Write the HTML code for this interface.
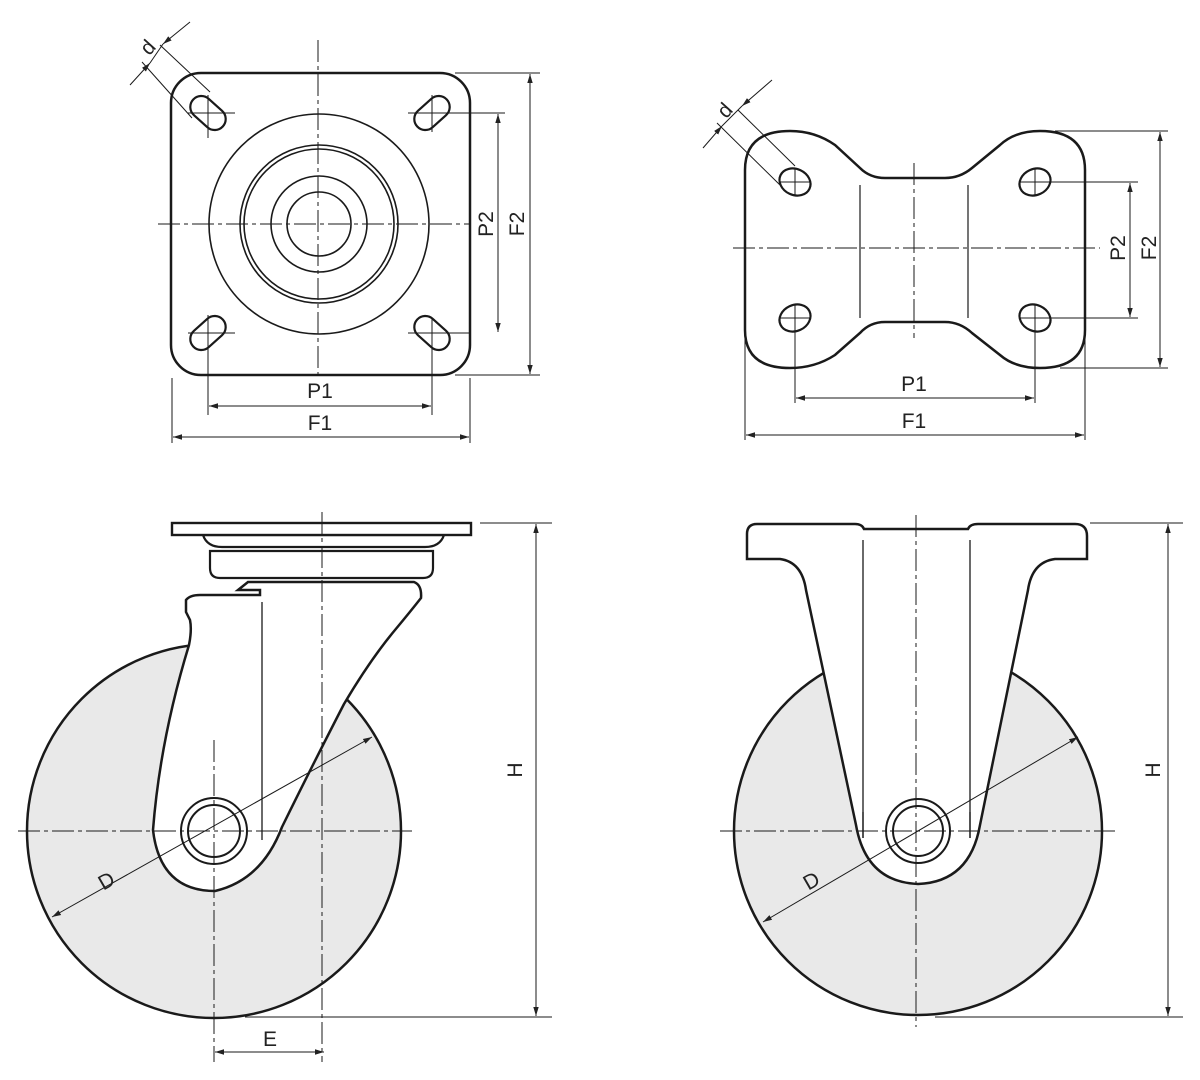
<!DOCTYPE html>
<html><head><meta charset="utf-8"><style>
html,body{margin:0;padding:0;background:#fff;}
svg{display:block;}
text{font-family:"Liberation Sans",sans-serif;font-size:21px;fill:#222;}
</style></head><body>
<svg width="1200" height="1080" viewBox="0 0 1200 1080" xmlns="http://www.w3.org/2000/svg">
<defs>
<marker id="a" viewBox="0 0 10 10" refX="10" refY="5" markerWidth="9" markerHeight="9" orient="auto-start-reverse" markerUnits="userSpaceOnUse"><path d="M0,2 L10,5 L0,8 z" fill="#222"/></marker>
</defs>
<g fill="none" stroke="#1a1a1a">
<!-- ============ TOP LEFT: square plate ============ -->
<rect x="171" y="73" width="299" height="302" rx="30" stroke-width="2.5"/>
<g stroke-width="2.2">
<rect x="-20" y="-11" width="40" height="22" rx="11" transform="translate(208,113) rotate(42)"/>
<rect x="-20" y="-11" width="40" height="22" rx="11" transform="translate(432,113) rotate(-42)"/>
<rect x="-20" y="-11" width="40" height="22" rx="11" transform="translate(208,333) rotate(-42)"/>
<rect x="-20" y="-11" width="40" height="22" rx="11" transform="translate(432,333) rotate(42)"/>
</g>
<g stroke-width="1.6">
<circle cx="319" cy="224" r="110"/>
<circle cx="319" cy="224" r="79"/>
<circle cx="319" cy="224" r="75"/>
<circle cx="319" cy="224" r="48"/>
<circle cx="319" cy="224" r="32"/>
</g>
<g stroke-width="1" stroke-dasharray="22,4,4,4">
<line x1="318" y1="40" x2="318" y2="378"/>
<line x1="158" y1="224" x2="470" y2="224"/>
</g>
<g stroke-width="1">
<line x1="188" y1="113" x2="235" y2="113"/><line x1="208" y1="95" x2="208" y2="138"/>
<line x1="408" y1="113" x2="455" y2="113"/><line x1="432" y1="95" x2="432" y2="132"/>
<line x1="188" y1="333" x2="235" y2="333"/><line x1="208" y1="315" x2="208" y2="415"/>
<line x1="408" y1="333" x2="470" y2="333"/><line x1="432" y1="318" x2="432" y2="415"/>
<line x1="440" y1="113" x2="505" y2="113"/>
<line x1="455" y1="73" x2="540" y2="73"/><line x1="455" y1="375" x2="540" y2="375"/>
<line x1="172" y1="378" x2="172" y2="443"/><line x1="470" y1="378" x2="470" y2="443"/>
<line x1="498" y1="114" x2="498" y2="332" marker-start="url(#a)" marker-end="url(#a)"/>
<line x1="530" y1="74" x2="530" y2="374" marker-start="url(#a)" marker-end="url(#a)"/>
<line x1="209" y1="406" x2="431" y2="406" marker-start="url(#a)" marker-end="url(#a)"/>
<line x1="173" y1="437" x2="469" y2="437" marker-start="url(#a)" marker-end="url(#a)"/>
<line x1="142" y1="62" x2="192" y2="118"/>
<line x1="160" y1="45" x2="210" y2="92"/>
<line x1="130" y1="85" x2="150" y2="63" marker-end="url(#a)"/>
<line x1="190" y1="22" x2="163" y2="44" marker-end="url(#a)"/>
<line x1="150" y1="63" x2="163" y2="44"/>
</g>
<!-- ============ TOP RIGHT: bowtie plate ============ -->
<path stroke-width="2.5" d="M745,170 Q745,131 790,131 Q815,131 835,145 L860,168 Q870,178 885,178 L945,178 Q960,178 972,168 L1000,145 Q1015,131 1040,131 Q1085,131 1085,170 L1085,330 Q1085,368 1040,368 Q1015,368 1000,355 L972,333 Q960,322 945,322 L885,322 Q870,322 860,333 L835,355 Q815,368 790,368 Q745,368 745,330 Z"/>
<g stroke-width="2.2">
<ellipse cx="795" cy="182" rx="16" ry="13" transform="rotate(25 795 182)"/>
<ellipse cx="1035" cy="182" rx="16" ry="13" transform="rotate(-25 1035 182)"/>
<ellipse cx="795" cy="318" rx="16" ry="13" transform="rotate(-25 795 318)"/>
<ellipse cx="1035" cy="318" rx="16" ry="13" transform="rotate(25 1035 318)"/>
</g>
<g stroke-width="1.2">
<line x1="860" y1="185" x2="860" y2="318"/>
<line x1="968" y1="185" x2="968" y2="318"/>
</g>
<g stroke-width="1" stroke-dasharray="22,4,4,4">
<line x1="914" y1="163" x2="914" y2="338"/>
<line x1="733" y1="248" x2="1100" y2="248"/>
</g>
<g stroke-width="1">
<line x1="780" y1="182" x2="810" y2="182"/><line x1="795" y1="168" x2="795" y2="196"/>
<line x1="1020" y1="182" x2="1138" y2="182"/><line x1="1035" y1="168" x2="1035" y2="196"/>
<line x1="780" y1="318" x2="810" y2="318"/><line x1="795" y1="304" x2="795" y2="403"/>
<line x1="1020" y1="318" x2="1138" y2="318"/><line x1="1035" y1="304" x2="1035" y2="403"/>
<line x1="1055" y1="131" x2="1168" y2="131"/><line x1="1060" y1="368" x2="1168" y2="368"/>
<line x1="745" y1="338" x2="745" y2="440"/><line x1="1085" y1="338" x2="1085" y2="440"/>
<line x1="1130" y1="183" x2="1130" y2="317" marker-start="url(#a)" marker-end="url(#a)"/>
<line x1="1160" y1="132" x2="1160" y2="367" marker-start="url(#a)" marker-end="url(#a)"/>
<line x1="796" y1="398" x2="1034" y2="398" marker-start="url(#a)" marker-end="url(#a)"/>
<line x1="746" y1="435" x2="1084" y2="435" marker-start="url(#a)" marker-end="url(#a)"/>
<line x1="717" y1="123" x2="780" y2="185"/>
<line x1="738" y1="110" x2="795" y2="166"/>
<line x1="703" y1="148" x2="722" y2="126" marker-end="url(#a)"/>
<line x1="772" y1="80" x2="742" y2="106" marker-end="url(#a)"/>
<line x1="722" y1="126" x2="742" y2="106"/>
</g>
<!-- ============ BOTTOM LEFT: swivel ============ -->
<circle cx="214" cy="831" r="187" fill="#e9e9e9" stroke-width="2.5"/>
<path stroke-width="2.5" fill="#fff" d="M200,595 L260,595 L260,590 L238,590 L248,582 L414,582 Q422,585 421,598 Q410,612 395,630 Q370,660 344,704 Q310,770 282,827 Q262,880 215,891 Q160,891 153,830 Q160,740 189,645 Q192,630 190,620 L186,612 L186,600 Q190,595 200,595 Z"/>
<path stroke-width="2.2" fill="#fff" d="M210,551 L433,551 L433,568 Q433,578 423,578 L220,578 Q210,578 210,568 Z"/>
<path stroke-width="2.2" fill="#fff" d="M203,535 L444,535 Q440,547 425,547 L222,547 Q207,547 203,535 Z"/>
<rect x="172" y="523" width="299" height="12" stroke-width="2.4" fill="#fff"/>
<circle cx="214" cy="831" r="33" stroke-width="2" fill="#fff"/>
<circle cx="214" cy="831" r="26" stroke-width="2"/>
<line x1="262" y1="602" x2="262" y2="840" stroke-width="1.3"/>
<g stroke-width="1" stroke-dasharray="22,4,4,4">
<line x1="322" y1="512" x2="322" y2="1062"/>
<line x1="214" y1="740" x2="214" y2="1062"/>
<line x1="18" y1="831" x2="412" y2="831"/>
</g>
<g stroke-width="1">
<line x1="52" y1="917" x2="372" y2="737" marker-start="url(#a)" marker-end="url(#a)"/>
<line x1="480" y1="523" x2="552" y2="523"/>
<line x1="245" y1="1017" x2="552" y2="1017"/>
<line x1="536" y1="524" x2="536" y2="1016" marker-start="url(#a)" marker-end="url(#a)"/>
<line x1="215" y1="1052" x2="324" y2="1052" marker-start="url(#a)" marker-end="url(#a)"/>
</g>
<!-- ============ BOTTOM RIGHT: rigid ============ -->
<circle cx="918" cy="831" r="184" fill="#e9e9e9" stroke-width="2.5"/>
<path stroke-width="2.5" fill="#fff" d="M757,524 L855,524 Q862,524 864,529 L968,529 Q970,524 978,524 L1075,524 Q1087,524 1087,536 L1087,559 L1055,559 Q1032,562 1028,590 L980,825 Q970,882 918,884 Q866,882 856,825 L806,590 Q802,562 780,559 L747,559 L747,534 Q747,524 757,524 Z"/>
<g stroke-width="1.3">
<line x1="863" y1="540" x2="863" y2="838"/>
<line x1="970" y1="540" x2="970" y2="838"/>
</g>
<circle cx="918" cy="831" r="32" stroke-width="2" fill="#fff"/>
<circle cx="918" cy="831" r="25" stroke-width="2"/>
<line x1="863" y1="812" x2="863" y2="838" stroke-width="1.3"/>
<line x1="970" y1="812" x2="970" y2="838" stroke-width="1.3"/>
<g stroke-width="1" stroke-dasharray="22,4,4,4">
<line x1="916" y1="515" x2="916" y2="1027"/>
<line x1="720" y1="831" x2="1115" y2="831"/>
</g>
<g stroke-width="1">
<line x1="763" y1="922" x2="1078" y2="737" marker-start="url(#a)" marker-end="url(#a)"/>
<line x1="1090" y1="523" x2="1183" y2="523"/>
<line x1="935" y1="1017" x2="1183" y2="1017"/>
<line x1="1168" y1="524" x2="1168" y2="1016" marker-start="url(#a)" marker-end="url(#a)"/>
</g>
</g>
<!-- labels -->
<text x="320" y="398" text-anchor="middle">P1</text>
<text x="320" y="430" text-anchor="middle">F1</text>
<text transform="translate(493,224) rotate(-90)" text-anchor="middle">P2</text>
<text transform="translate(524,224) rotate(-90)" text-anchor="middle">F2</text>
<text transform="translate(153,52) rotate(-48)" text-anchor="middle">d</text>
<text x="914" y="391" text-anchor="middle">P1</text>
<text x="914" y="428" text-anchor="middle">F1</text>
<text transform="translate(1125,248) rotate(-90)" text-anchor="middle">P2</text>
<text transform="translate(1156,248) rotate(-90)" text-anchor="middle">F2</text>
<text transform="translate(730,115) rotate(-48)" text-anchor="middle">d</text>
<text transform="translate(110,887) rotate(-30)" text-anchor="middle">D</text>
<text transform="translate(815,887) rotate(-30)" text-anchor="middle">D</text>
<text transform="translate(522,770) rotate(-90)" text-anchor="middle">H</text>
<text transform="translate(1160,770) rotate(-90)" text-anchor="middle">H</text>
<text x="270" y="1046" text-anchor="middle">E</text>
</svg>
</body></html>
